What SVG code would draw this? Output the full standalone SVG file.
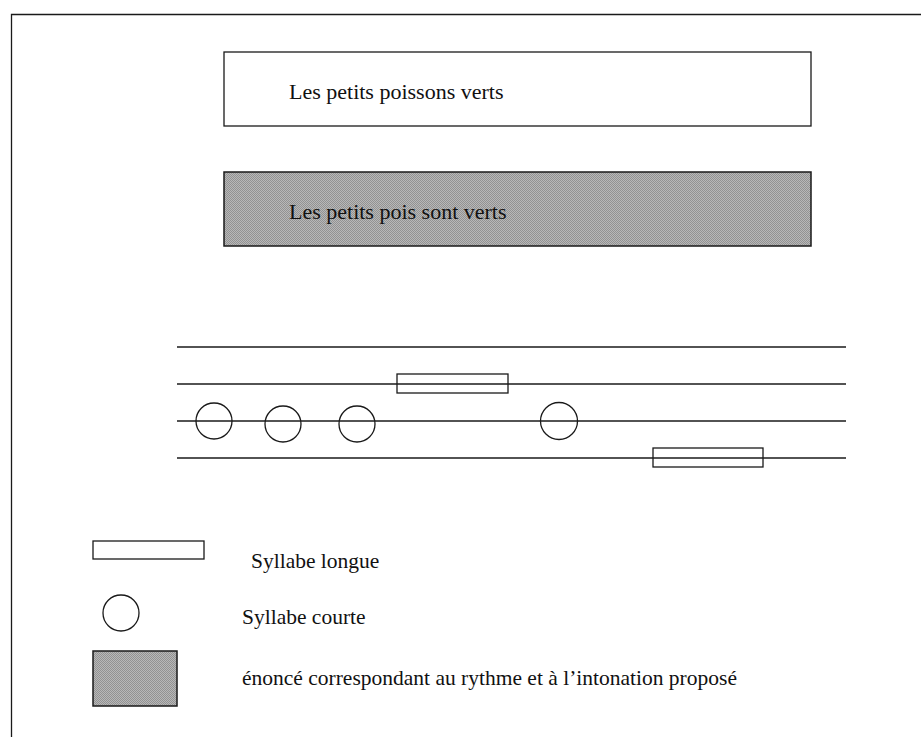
<svg xmlns="http://www.w3.org/2000/svg" width="921" height="737" viewBox="0 0 921 737">
  <defs>
    <pattern id="dither" width="2" height="2" patternUnits="userSpaceOnUse">
      <rect width="2" height="2" fill="#b8b8b8"/>
      <rect width="1" height="1" fill="#929292"/>
      <rect x="1" y="1" width="1" height="1" fill="#929292"/>
    </pattern>
  </defs>
  <style>
    .ln { stroke: #1a1a1a; stroke-width: 1.3; fill: none; }
    .box { stroke: #1a1a1a; stroke-width: 1.3; fill: #ffffff; }
    .grey { stroke: #1a1a1a; stroke-width: 1.5; fill: url(#dither); }
    .txt { font-family: "Liberation Serif", "Times New Roman", serif; font-size: 22px; fill: #111111; }
    .leg { font-family: "Liberation Serif", "Times New Roman", serif; font-size: 21.5px; fill: #111111; }
  </style>
  <rect width="921" height="737" fill="#ffffff"/>
  <g id="frame">
    <path class="ln" d="M11.5 737 V14.5 H921" stroke-width="1.6"/>
  </g>
  <g id="sentence1">
    <rect class="box" x="224" y="52" width="587" height="74"/>
    <text class="txt" x="289" y="99">Les petits poissons verts</text>
  </g>
  <g id="sentence2">
    <rect class="grey" x="224" y="172" width="587" height="74"/>
    <text class="txt" x="289" y="219">Les petits pois sont verts</text>
  </g>
  <g id="staff">
    <line class="ln" x1="177" y1="347" x2="846" y2="347"/>
    <line class="ln" x1="177" y1="384" x2="846" y2="384"/>
    <line class="ln" x1="177" y1="421" x2="846" y2="421"/>
    <line class="ln" x1="177" y1="458" x2="846" y2="458"/>
  </g>
  <g id="syllables">
    <circle class="ln" cx="214" cy="421" r="18"/>
    <circle class="ln" cx="283" cy="424" r="18"/>
    <circle class="ln" cx="357" cy="424" r="18"/>
    <rect class="ln" x="397" y="374" width="111" height="19"/>
    <circle class="ln" cx="559" cy="421" r="18.5"/>
    <rect class="ln" x="653" y="448" width="110" height="19"/>
  </g>
  <g id="legend-long">
    <rect class="ln" x="93" y="541" width="111" height="18"/>
    <text class="leg" x="251" y="568">Syllabe longue</text>
  </g>
  <g id="legend-short">
    <circle class="ln" cx="121" cy="613" r="18"/>
    <text class="leg" x="242" y="624">Syllabe courte</text>
  </g>
  <g id="legend-grey">
    <rect class="grey" x="93" y="651" width="84" height="55"/>
    <text class="leg" x="242" y="685">énoncé correspondant au rythme et à l’intonation proposé</text>
  </g>
</svg>
